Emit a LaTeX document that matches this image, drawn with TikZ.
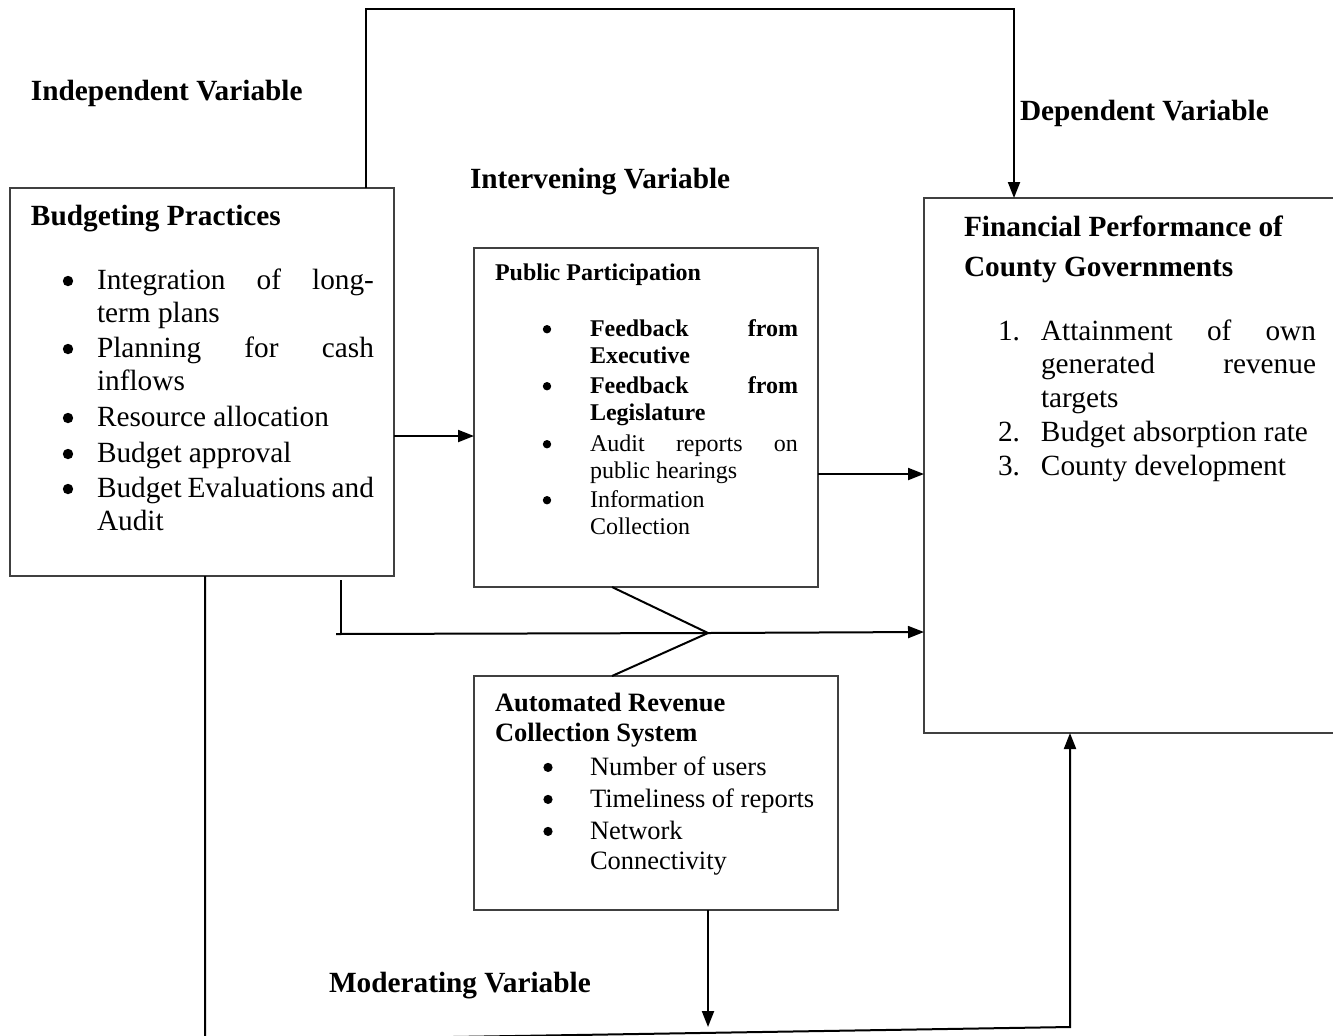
\documentclass[tikz,border=0pt]{standalone}
\usepackage{fontspec}
\setmainfont{Liberation Serif}
\usetikzlibrary{arrows.meta}
\newcommand\bulA{\leavevmode\llap{\tikz[baseline=0pt]\fill (0pt,4pt) circle[radius=2.6pt];\hspace{11.9pt}}}
\newcommand\bulB{\leavevmode\llap{\tikz[baseline=0pt]\fill (0pt,3.4pt) circle[radius=2.1pt];\hspace{19.4pt}}}
\newcommand\bulC{\leavevmode\llap{\tikz[baseline=0pt]\fill (0pt,3.8pt) circle[radius=2.3pt];\hspace{18.7pt}}}
\newcommand\numlbl[1]{\leavevmode\llap{\makebox[21.5pt][l]{#1}}}
\tikzset{
  box/.style={draw=black!75,line width=0.75pt,inner sep=0pt,outer sep=0pt,anchor=north west},
  txt/.style={anchor=base west,inner sep=0pt,outer sep=0pt},
  fA/.style={font=\fontsize{14.65}{16.5}\selectfont},
  fB/.style={font=\fontsize{12}{13.5}\selectfont},
  fC/.style={font=\fontsize{13.25}{15}\selectfont},
  fD/.style={font=\fontsize{14.65}{16.75}\selectfont},
  lbl/.style={txt,font=\fontsize{14.65}{16.5}\selectfont\bfseries},
  conn/.style={line width=1pt,black},
  arr/.style={conn,-{Triangle[length=8pt,width=6pt]}}
}
\begin{document}
\begin{tikzpicture}[x=0.5pt,y=-0.5pt]
\useasboundingbox (0,0) rectangle (1333,1035);
\clip (0,0) rectangle (1333,1035);

% boxes
\node[box,minimum width=192pt,minimum height=194pt] (bp) at (10,188) {};
\node[box,minimum width=172pt,minimum height=169.5pt] (pp) at (474,248) {};
\node[box,minimum width=210pt,minimum height=267.5pt] (fp) at (924,198) {};
\node[box,minimum width=182pt,minimum height=117pt] (arcs) at (474,676) {};

% variable labels
\node[lbl] (iv) at (31,100) {Independent Variable};
\node[lbl] (dv) at (1020,120) {Dependent Variable};
\node[lbl] (inv) at (470,188) {Intervening Variable};
\node[lbl] (mv) at (329,992) {Moderating Variable};

% Budgeting Practices
\node[txt,fA] (bpt) at (31,225) {\bfseries Budgeting Practices};
\node[txt,fA] (bp1) at (97,289) {\parbox[t]{138.5pt}{\bulA\makebox[138.5pt][s]{Integration of long-}\\term plans}};
\node[txt,fA] (bp2) at (97,357) {\parbox[t]{138.5pt}{\bulA\makebox[138.5pt][s]{Planning for cash}\\inflows}};
\node[txt,fA] (bp3) at (97,426) {\bulA Resource allocation};
\node[txt,fA] (bp4) at (97,462) {\bulA Budget approval};
\node[txt,fA] (bp5) at (97,497) {\parbox[t]{138.5pt}{\bulA\makebox[138.5pt][s]{Budget Evaluations and}\\Audit}};

% Public Participation
\node[txt,fB] (ppt) at (495,280) {\bfseries Public Participation};
\node[txt,fB] (pp1) at (590,336) {\parbox[t]{104pt}{\bfseries\bulB\makebox[104pt][s]{Feedback from}\\Executive}};
\node[txt,fB] (pp2) at (590,393) {\parbox[t]{104pt}{\bfseries\bulB\makebox[104pt][s]{Feedback from}\\Legislature}};
\node[txt,fB] (pp3) at (590,451) {\parbox[t]{104pt}{\bulB\makebox[104pt][s]{Audit reports on}\\public hearings}};
\node[txt,fB] (pp4) at (590,507) {\parbox[t]{104pt}{\bulB Information\\Collection}};

% Financial Performance
\node[txt,fA] (fpt) at (964,236) {\parbox[t]{200pt}{\bfseries\baselineskip=20pt Financial Performance of\\County Governments}};
\node[txt,fD] (fp1) at (1041,340) {\parbox[t]{137.5pt}{\numlbl{1.}\makebox[137.5pt][s]{Attainment of own}\\\makebox[137.5pt][s]{generated revenue}\\targets}};
\node[txt,fD] (fp2) at (1041,441) {\numlbl{2.}Budget absorption rate};
\node[txt,fD] (fp3) at (1041,475) {\numlbl{3.}County development};

% Automated Revenue Collection System
\node[txt,fC] (arct) at (495,711) {\parbox[t]{170pt}{\bfseries Automated Revenue\\Collection System}};
\node[txt,fC] (ar1) at (590,775) {\bulC Number of users};
\node[txt,fC] (ar2) at (590,807) {\bulC Timeliness of reports};
\node[txt,fC] (ar3) at (590,839) {\parbox[t]{120pt}{\bulC Network\\Connectivity}};

% helper coordinates
\coordinate (topL) at (366,9);
\coordinate (topR) at (1014,9);
\coordinate (yA) at (0,436);
\coordinate (yB) at (0,474);
\coordinate (mL) at (336,634);
\coordinate (mV) at (341,634);
\coordinate (mj) at (708,633);
\coordinate (yC) at (0,632);
\coordinate (bm) at (708,1027);
\coordinate (bL) at (205,1041);
\coordinate (bR) at (1070,1027);

% connectors
\draw[arr] ([xshift=178pt]bp.north west) -- (topL) -- (topR) -- ([xshift=45pt]fp.north west);
\draw[arr] (bp.east |- yA) -- (pp.west |- yA);
\draw[arr] (pp.east |- yB) -- (fp.west |- yB);
\draw[conn] ([xshift=165.5pt,yshift=-2pt]bp.south west) -- (mV);
\draw[arr] (mL) -- (mj) -- (fp.west |- yC);
\draw[conn] ([xshift=69pt]pp.south west) -- (mj);
\draw[conn] ([xshift=69pt]arcs.north west) -- (mj);
\draw[arr] ([xshift=117pt]arcs.south west) -- (bm);
\draw[arr] ([xshift=97.5pt]bp.south west) -- (bL) -- (bR) -- ([xshift=73pt]fp.south west);
\end{tikzpicture}
\end{document}
